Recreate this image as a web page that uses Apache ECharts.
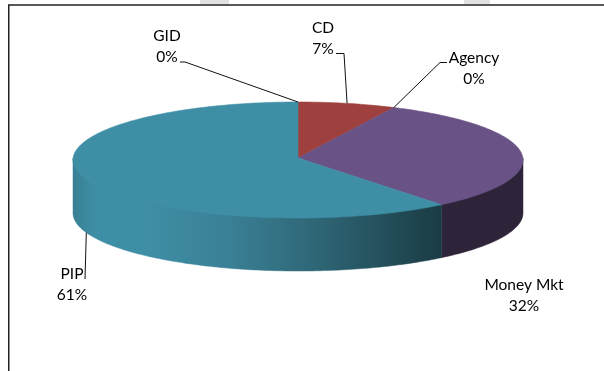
<!DOCTYPE html>
<html>
<head>
<meta charset="utf-8">
<style>html,body{margin:0;padding:0;background:#fff}#chart{width:604px;height:371px}</style>
<script src="https://cdn.jsdelivr.net/npm/echarts@6/dist/echarts.min.js"></script>
</head>
<body>
<div id="chart"></div>
<script>
// Portfolio allocation, clockwise from twelve o'clock
const categories = ['CD', 'Agency', 'Money Mkt', 'PIP', 'GID'];
const shares = [7, 0, 32, 61, 0];

// Drum geometry
const CX = 298, CY = 160, RX = 225, RY = 58, DEPTH = 53;
const TOP_COLORS = { 'CD': '#9E413E', 'Money Mkt': '#695285', 'PIP': '#3E8EA5' };
const WALL_COLORS = {
  'Money Mkt': '#2E2439',
  'PIP': {
    type: 'linear', global: true, x: 73, y: 0, x2: 443, y2: 0,
    colorStops: [
      { offset: 0, color: '#397F95' },
      { offset: 0.06, color: '#3E8EA5' },
      { offset: 0.2, color: '#3E8EA5' },
      { offset: 0.42, color: '#3A8096' },
      { offset: 0.65, color: '#2F6777' },
      { offset: 1, color: '#1A3B44' }
    ]
  }
};
// Label centres and the bend of each leader line
const LABEL_LAYOUT = {
  'GID': { x: 167, y: 46.5, bend: [[185, 62], [180, 62]] },
  'CD': { x: 323, y: 38.5, bend: [[344, 53.5], [336, 53.5]] },
  'Agency': { x: 474, y: 68.5, bend: [[440, 62.5], [447, 62.5]] },
  'PIP': { x: 72, y: 284.5, bend: [[85, 279]] },
  'Money Mkt': { x: 524, y: 295.5, bend: null }
};

// Running start angle of each slice, in degrees clockwise from the top
const total = shares.reduce((a, b) => a + b, 0);
const starts = [];
shares.reduce((acc, v, i) => { starts[i] = acc; return acc + v / total * 360; }, 0);

const rad = d => d * Math.PI / 180;
const ellipsePoint = (deg, dy) => [CX + RX * Math.sin(rad(deg)), CY - RY * Math.cos(rad(deg)) + (dy || 0)];
function arcPoints(from, to, dy) {
  const pts = [];
  const n = Math.max(1, Math.ceil(Math.abs(to - from)));
  for (let i = 0; i <= n; i++) pts.push(ellipsePoint(from + (to - from) * i / n, dy));
  return pts;
}
const data = shares.map(v => [v]);

function renderWall(params, api) {
  const name = categories[params.dataIndex];
  const from = Math.max(starts[params.dataIndex], 90);
  const to = Math.min(starts[params.dataIndex] + api.value(0) / total * 360, 270);
  if (!(to > from)) return null;
  // The upper edge runs a little under the top face so no seam shows
  const upper = arcPoints(from, to, -2);
  const lower = arcPoints(to, from, DEPTH);
  return {
    type: 'polygon',
    shape: { points: upper.concat(lower) },
    style: { fill: WALL_COLORS[name], stroke: WALL_COLORS[name], lineWidth: 0.5 }
  };
}

function renderTop(params, api) {
  const name = categories[params.dataIndex];
  const sweep = api.value(0) / total * 360;
  if (!sweep) return null;
  const from = starts[params.dataIndex];
  const color = TOP_COLORS[name];
  return {
    type: 'polygon',
    shape: { points: [[CX, CY - 2]].concat(arcPoints(from, from + sweep, 0)) },
    style: { fill: color, stroke: color, lineWidth: 0.6 }
  };
}

function renderLabel(params, api) {
  const name = categories[params.dataIndex];
  const value = api.value(0);
  const layout = LABEL_LAYOUT[name];
  const mid = starts[params.dataIndex] + value / total * 180;
  const front = mid > 90 && mid < 270;
  const children = [{
    type: 'text',
    style: {
      x: layout.x, y: layout.y,
      text: name + '\n' + value + '%',
      font: '15.5px Lato, "Open Sans", sans-serif',
      fill: '#000',
      align: 'center', verticalAlign: 'middle',
      lineHeight: 21
    }
  }];
  if (layout.bend) {
    children.push({
      type: 'polyline',
      shape: { points: [ellipsePoint(mid, front ? DEPTH : 0)].concat(layout.bend) },
      style: { stroke: '#111', lineWidth: 1, fill: null }
    });
  }
  return { type: 'group', children };
}

const chart = echarts.init(document.getElementById('chart'), null, { renderer: 'canvas' });
chart.setOption({
  animation: false,
  backgroundColor: '#fff',
  tooltip: { show: false },
  graphic: [
    // Frame on the top and left, with the two grey tabs above it
    { type: 'rect', shape: { x: 200, y: 0, width: 29, height: 4 }, style: { fill: '#E2E2E2' } },
    { type: 'rect', shape: { x: 464, y: 0, width: 26, height: 4 }, style: { fill: '#E2E2E2' } },
    { type: 'polyline', shape: { points: [[8.75, 371], [8.75, 5], [604, 5]] }, style: { stroke: '#222', lineWidth: 1.5, fill: null } }
  ],
  series: [
    { type: 'custom', coordinateSystem: 'none', silent: true, z: 2, data, renderItem: renderWall },
    { type: 'custom', coordinateSystem: 'none', silent: true, z: 3, data, renderItem: renderTop },
    { type: 'custom', coordinateSystem: 'none', silent: true, z: 4, data, renderItem: renderLabel }
  ]
});
</script>
</body>
</html>
